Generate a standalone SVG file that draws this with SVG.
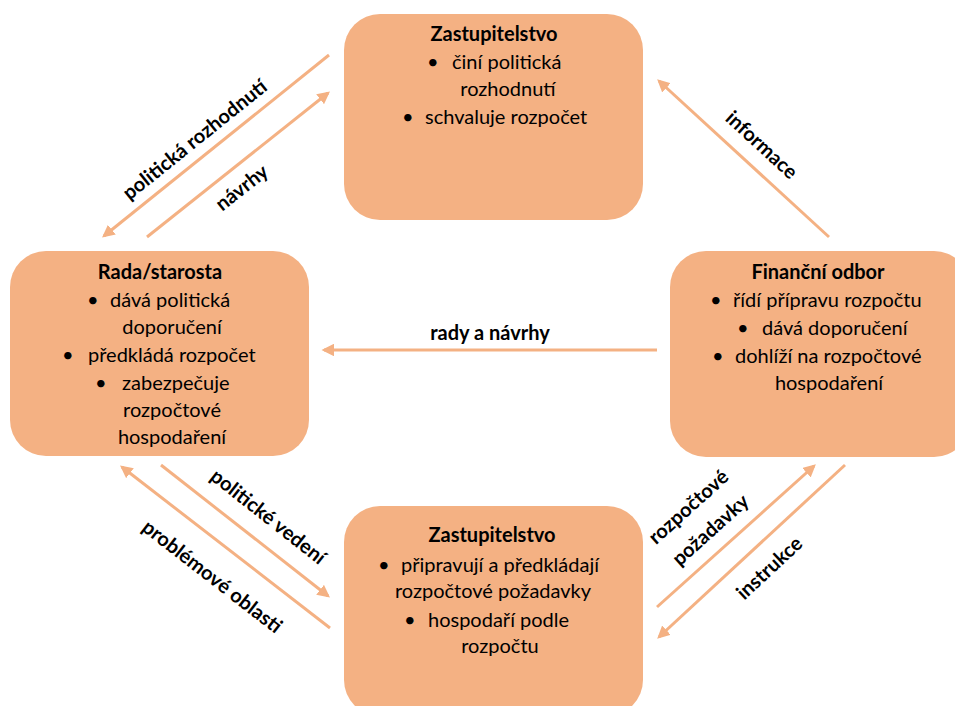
<svg xmlns="http://www.w3.org/2000/svg" width="955" height="706" viewBox="0 0 955 706">
<style>
.box{fill:#F4B183;}
.t{font-family:Lato,"Open Sans","Liberation Sans",sans-serif;font-size:20px;fill:#000;}
.b{font-weight:bold;}
.c{text-anchor:middle;}
.ln{stroke:#F4B183;stroke-width:3;fill:none;marker-end:url(#ah);}
.lbl{font-family:Lato,"Open Sans","Liberation Sans",sans-serif;font-size:20px;font-weight:bold;fill:#000;text-anchor:middle;}
</style>
<defs>
<marker id="ah" viewBox="0 0 10 10" refX="8" refY="5" markerWidth="4.2" markerHeight="4.2" orient="auto" markerUnits="strokeWidth">
<path d="M0,0 L10,5 L0,10 z" fill="#F4B183"/>
</marker>
</defs>
<rect width="955" height="706" fill="#fff"/>

<g id="connectors">
<line class="ln" x1="329" y1="55" x2="104" y2="236"/>
<line class="ln" x1="147" y1="237" x2="328" y2="93"/>
<line class="ln" x1="829" y1="237" x2="659" y2="81"/>
<line class="ln" x1="657" y1="350" x2="324" y2="350"/>
<line class="ln" x1="161" y1="465" x2="328" y2="596"/>
<line class="ln" x1="330" y1="628" x2="122" y2="467"/>
<line class="ln" x1="657" y1="607" x2="814" y2="466"/>
<line class="ln" x1="845" y1="465" x2="659" y2="637"/>
<text class="lbl" transform="translate(199,145) rotate(-38.8)">politická rozhodnutí</text>
<text class="lbl" transform="translate(246,193) rotate(-38.4)">návrhy</text>
<text class="lbl" transform="translate(757,150) rotate(42.6)">informace</text>
<text class="lbl" x="490" y="340">rady a návrhy</text>
<text class="lbl" transform="translate(264,522) rotate(38.2)">politické vedení</text>
<text class="lbl" transform="translate(208,582) rotate(37.8)">problémové oblasti</text>
<text class="lbl" transform="translate(693,512) rotate(-42)">rozpočtové</text>
<text class="lbl" transform="translate(715,535) rotate(-42)">požadavky</text>
<text class="lbl" transform="translate(774,573) rotate(-43)">instrukce</text>
</g>

<g id="node-top">
<rect class="box" x="344" y="14" width="299" height="206" rx="36"/>
<text class="t b c" x="494" y="41">Zastupitelstvo</text>
<text class="t" x="427" y="69">•</text>
<text class="t" x="452" y="69">činí politická</text>
<text class="t c" x="508" y="96">rozhodnutí</text>
<text class="t" x="402" y="124">•</text>
<text class="t" x="425" y="124">schvaluje rozpočet</text>
</g>

<g id="node-left">
<rect class="box" x="10" y="251" width="299" height="205" rx="36"/>
<text class="t b c" x="160" y="279">Rada/starosta</text>
<text class="t" x="87" y="307">•</text>
<text class="t" x="110" y="307">dává politická</text>
<text class="t c" x="172" y="334">doporučení</text>
<text class="t" x="62" y="362">•</text>
<text class="t" x="88" y="362">předkládá rozpočet</text>
<text class="t" x="95" y="390">•</text>
<text class="t" x="122" y="390">zabezpečuje</text>
<text class="t c" x="172" y="417">rozpočtové</text>
<text class="t c" x="172" y="444">hospodaření</text>
</g>

<g id="node-right">
<rect class="box" x="670" y="251" width="300" height="206" rx="36"/>
<text class="t b c" x="818" y="279">Finanční odbor</text>
<text class="t" x="710" y="307">•</text>
<text class="t" x="733" y="307">řídí přípravu rozpočtu</text>
<text class="t" x="737" y="335">•</text>
<text class="t" x="762" y="335">dává doporučení</text>
<text class="t" x="712" y="363">•</text>
<text class="t" x="735" y="363">dohlíží na rozpočtové</text>
<text class="t c" x="829" y="390">hospodaření</text>
</g>

<g id="node-bottom">
<rect class="box" x="344" y="506" width="299" height="210" rx="36"/>
<text class="t b c" x="492" y="542">Zastupitelstvo</text>
<text class="t" x="378" y="572">•</text>
<text class="t" x="401" y="572">připravují a předkládají</text>
<text class="t c" x="493" y="598">rozpočtové požadavky</text>
<text class="t" x="404" y="627">•</text>
<text class="t" x="428" y="627">hospodaří podle</text>
<text class="t c" x="500" y="653">rozpočtu</text>
</g>
</svg>
